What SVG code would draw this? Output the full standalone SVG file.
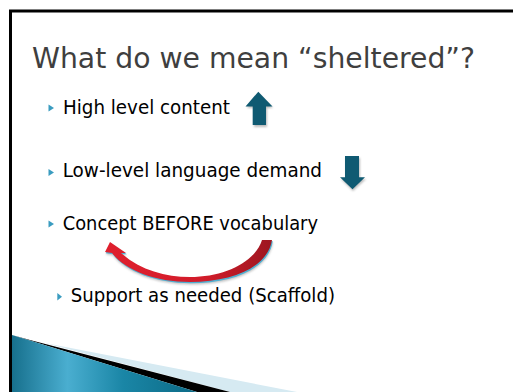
<svg xmlns="http://www.w3.org/2000/svg" width="513" height="392" viewBox="0 0 513 392">
<defs>
<style>
.title{font-family:"DejaVu Sans",Verdana,sans-serif;font-size:28px;fill:#3f3f3f}
.body{font-family:"DejaVu Sans",Verdana,sans-serif;font-size:19px;fill:#000}
.bullet{fill:#3a9cc0}
.blk{fill:#0f5a72}
</style>
<linearGradient id="teal" x1="0" y1="0" x2="1" y2="0">
<stop offset="0" stop-color="#17708d"/>
<stop offset="0.3" stop-color="#4aaed0"/>
<stop offset="0.6" stop-color="#1a86a6"/>
<stop offset="1" stop-color="#0c6a86"/>
</linearGradient>
<linearGradient id="red" x1="0" y1="0" x2="1" y2="0">
<stop offset="0" stop-color="#e0202e"/>
<stop offset="0.6" stop-color="#d11c2a"/>
<stop offset="1" stop-color="#9c1620"/>
</linearGradient>
<filter id="sh" x="-20%" y="-20%" width="140%" height="140%">
<feGaussianBlur stdDeviation="1.2"/>
</filter>
</defs>
<rect width="513" height="392" fill="#fff"/>
<g id="bottom-decoration">
<polygon points="45,343 297,392 230,392" fill="#d6eaf2"/>
<polygon points="30,340 230,392 197,392 12,335" fill="#000"/>
<polygon points="12,335 197,392 12,392" fill="url(#teal)"/>
</g>
<g id="frame">
<path d="M10.5,392 V11 H513" fill="none" stroke="#000" stroke-width="3"/>
</g>
<g id="title">
<text class="title" x="32" y="68" textLength="443" lengthAdjust="spacingAndGlyphs">What do we mean “sheltered”?</text>
</g>
<g id="item-high">
<polygon class="bullet" points="48.5,104.5 54,108 48.5,111.5"/>
<text class="body" x="63" y="114" textLength="167" lengthAdjust="spacingAndGlyphs">High level content</text>
</g>
<g id="arrow-up">
<polygon points="258.3,93.7 273,108 267,108 267,127 254,127 254,108 247,108" fill="#777" opacity="0.5" filter="url(#sh)"/>
<polygon class="blk" points="258.3,91.7 272.5,106.5 266,106.5 266,125 252.7,125 252.7,106.5 245.5,106.5"/>
</g>
<g id="item-low">
<polygon class="bullet" points="48.5,169 54,172.5 48.5,176"/>
<text class="body" x="62.7" y="177" textLength="259.3" lengthAdjust="spacingAndGlyphs">Low-level language demand</text>
</g>
<g id="arrow-down">
<polygon points="346,158 360,158 360,179 366,179 353,191 341,179 346,179" fill="#777" opacity="0.5" filter="url(#sh)"/>
<polygon class="blk" points="345,156 359,156 359,177.3 365,177.3 352.5,189.3 340,177.3 345,177.3"/>
</g>
<g id="item-concept">
<polygon class="bullet" points="48.5,220.5 54,224 48.5,227.5"/>
<text class="body" x="62.7" y="230" textLength="255.3" lengthAdjust="spacingAndGlyphs">Concept BEFORE vocabulary</text>
</g>
<g id="connectors">
<path d="M110,242 L126,253 L121,253 C140,270 165,277 190,277 C225,277 255,262 262,240 L272,240 C268,266 235,282 190,282 C155,282 125,270 112,253 L105,252 Z" fill="#888" opacity="0.5" filter="url(#sh)" transform="translate(1,2.5)"/>
<path d="M110,242 L126,253 L121,253 C140,270 165,277 190,277 C225,277 255,262 262,240 L272,240 C268,266 235,282 190,282 C155,282 125,270 112,253 L105,252 Z" fill="#4fb0d2" transform="translate(0.8,1.3)"/>
<path d="M110,242 L126,253 L121,253 C140,270 165,277 190,277 C225,277 255,262 262,240 L272,240 C268,266 235,282 190,282 C155,282 125,270 112,253 L105,252 Z" fill="url(#red)"/>
</g>
<g id="item-support">
<polygon class="bullet" points="57.3,293 62,296.7 57.3,300.4"/>
<text class="body" x="70.7" y="302" textLength="264.3" lengthAdjust="spacingAndGlyphs">Support as needed (Scaffold)</text>
</g>
</svg>
